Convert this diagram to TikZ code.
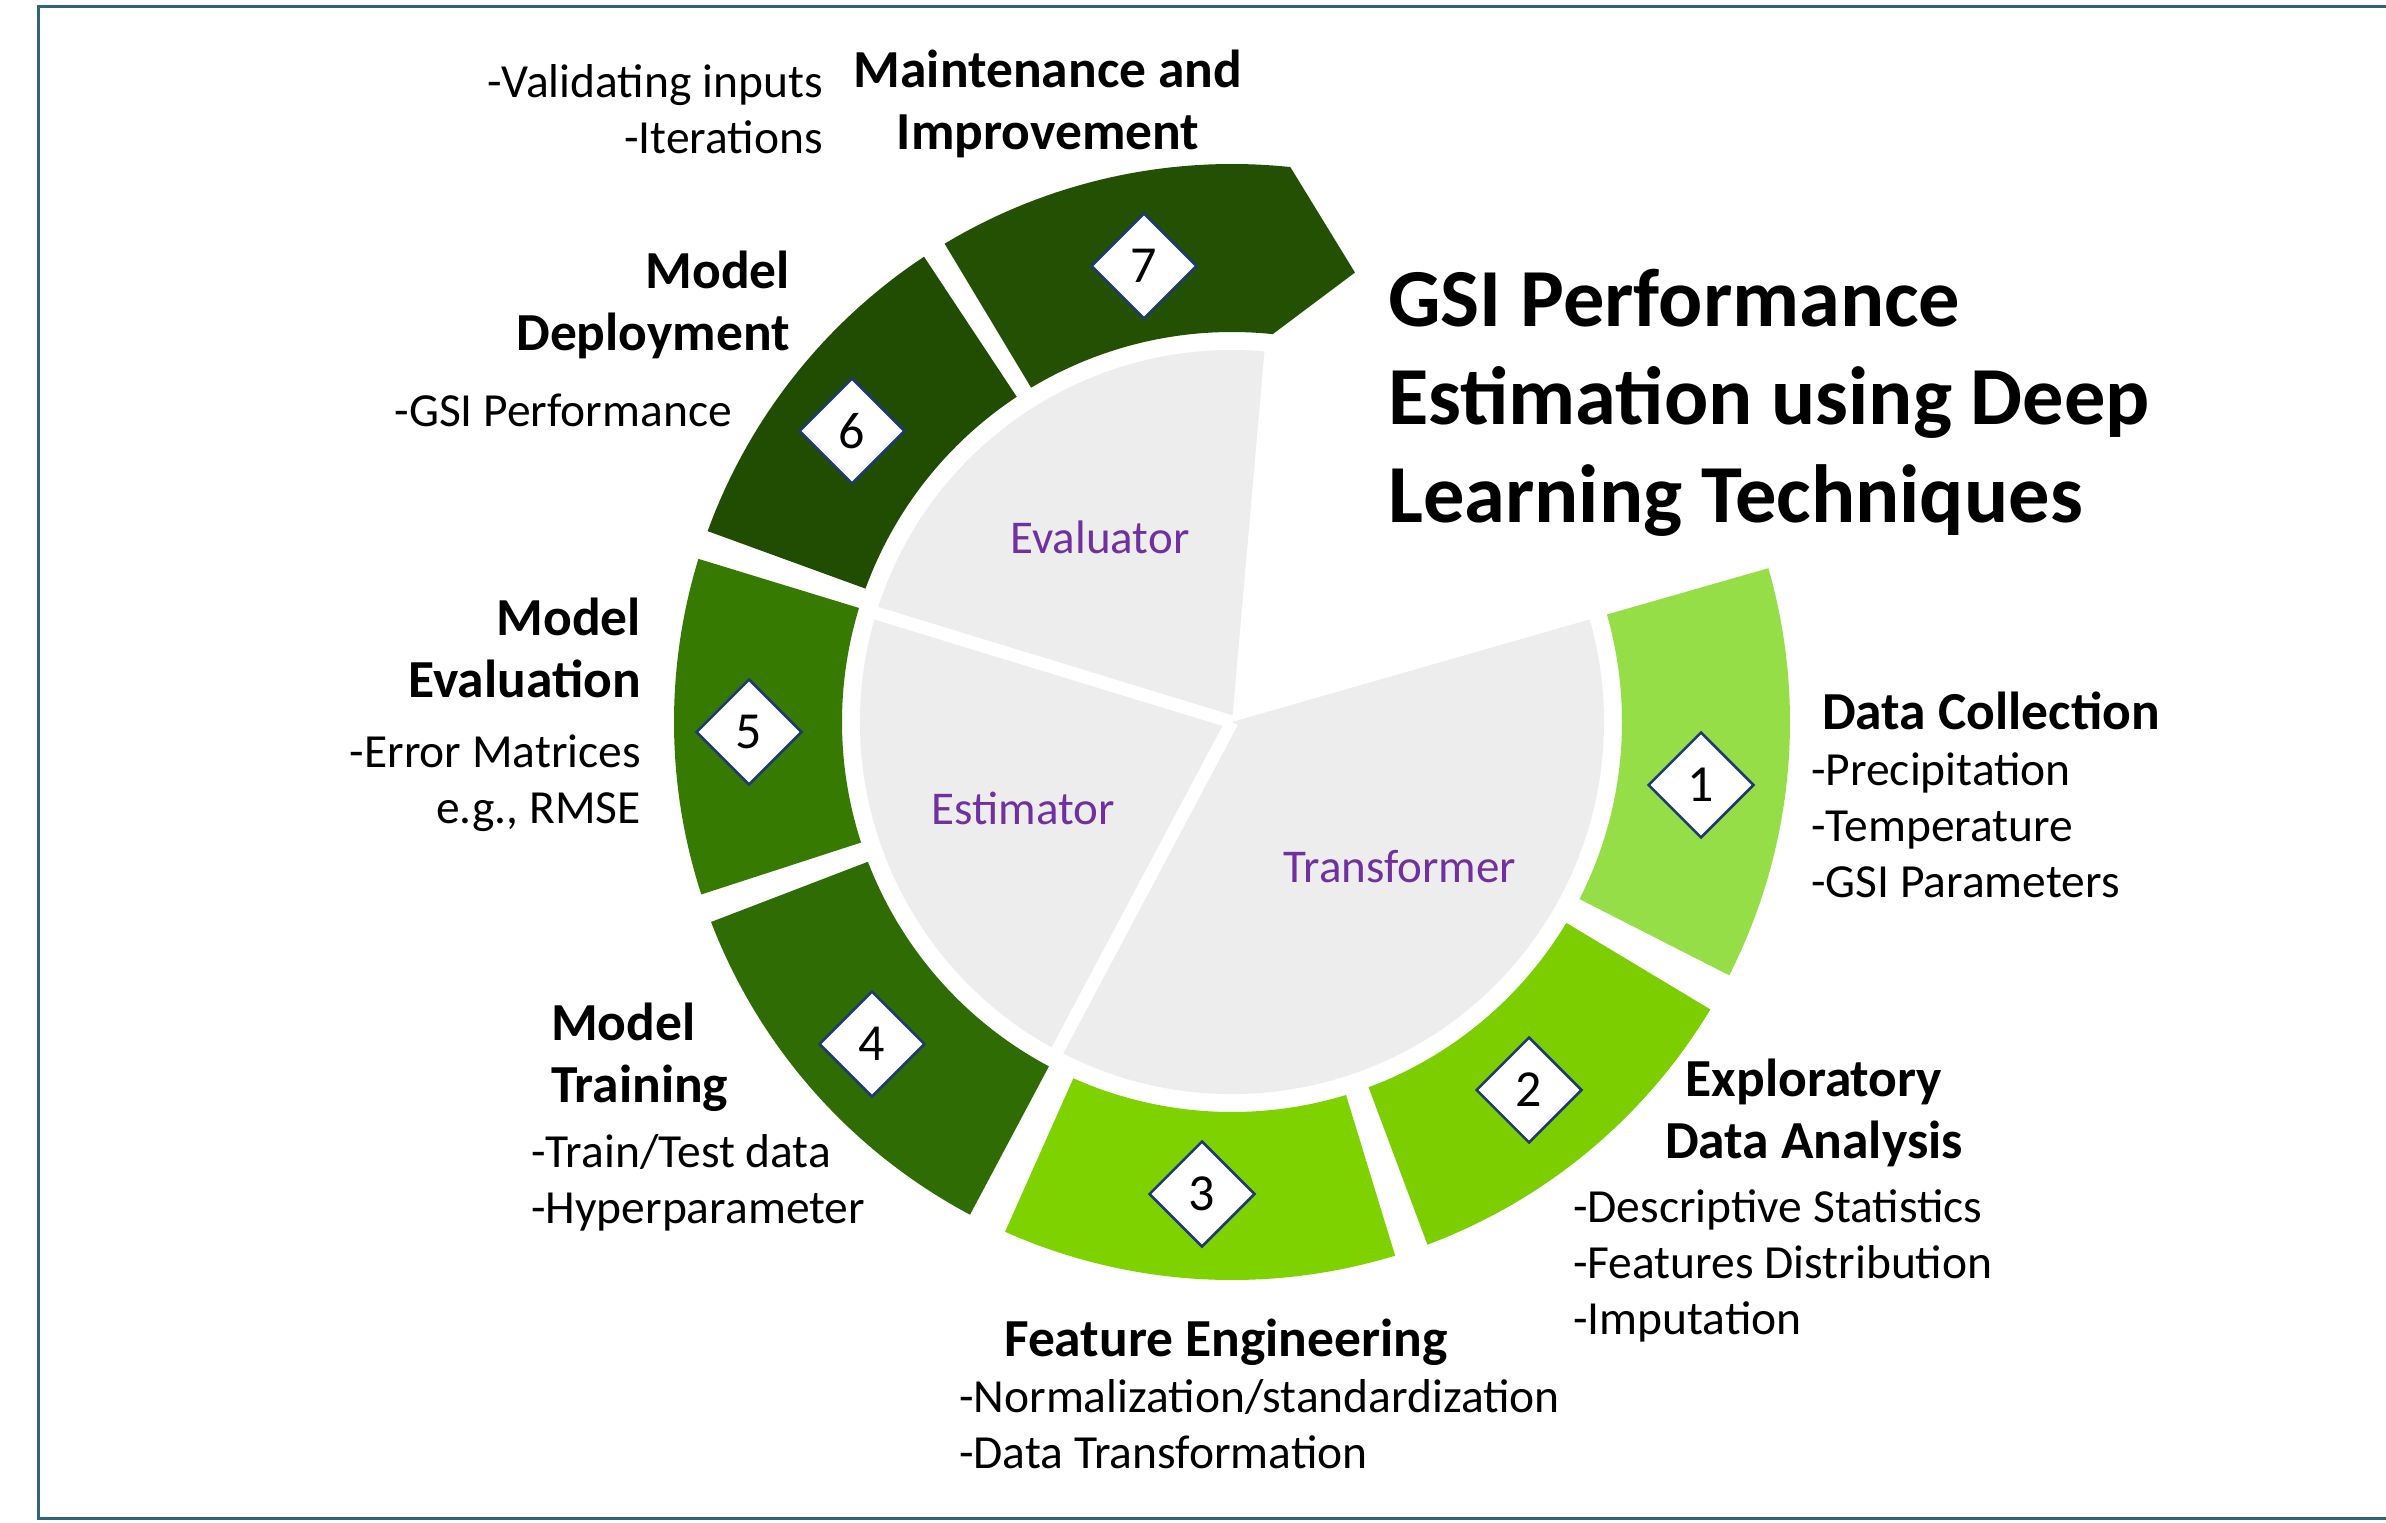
\documentclass[tikz,border=0pt]{standalone}
\usepackage{fontspec}
\setmainfont{Carlito}
\usetikzlibrary{calc,shapes.geometric}

\definecolor{frameteal}{HTML}{2F6578}
\definecolor{pegray}{HTML}{EDEDED}
\definecolor{labelpurple}{HTML}{7030A0}
\definecolor{badgeblue}{HTML}{1F3A70}
\definecolor{segone}{HTML}{96DE48}
\definecolor{segtwo}{HTML}{7CCE00}
\definecolor{segthree}{HTML}{7ED200}
\definecolor{segfour}{HTML}{2F6C04}
\definecolor{segfive}{HTML}{377A02}
\definecolor{segsix}{HTML}{204D02}
\definecolor{segseven}{HTML}{245003}

% annular sector: start angle, end angle, colour
\newcommand{\ringpart}[3]{%
  \fill[#3] ($(C)+(#1:558)$) arc[start angle=#1, end angle=#2, radius=558]
    -- ($(C)+(#2:390)$) arc[start angle=#2, end angle=#1, radius=390] -- cycle;}

\begin{document}
\begin{tikzpicture}[x=1pt,y=1pt,
  heading/.style={font=\fontsize{53.5}{62}\selectfont\bfseries, inner sep=0pt},
  bullets/.style={font=\fontsize{47.5}{56}\selectfont, inner sep=0pt},
  pielabel/.style={font=\fontsize{47}{56}\selectfont, text=labelpurple, inner sep=0pt},
  badge/.style={diamond, draw=badgeblue, line width=2.5pt, fill=white,
    minimum width=106pt, minimum height=106pt, inner sep=0pt,
    font=\fontsize{52}{60}\selectfont},
  titletext/.style={font=\fontsize{82.5}{98}\selectfont\bfseries, inner sep=0pt, align=left}
]
\useasboundingbox (0,0) rectangle (2386,-1523);
\fill[white] (0,0) rectangle (2386,-1523);
\draw[frameteal, line width=3pt] (2386,-6) -- (38,-6) -- (38,-1518) -- (2386,-1518);

\coordinate (C) at (1232,-722);

% inner pie
\fill[pegray] (C) -- ($(C)+(-118:372)$) arc[start angle=-118, end angle=16, radius=372] -- cycle;
\fill[pegray] (C) -- ($(C)+(163:372)$) arc[start angle=163, end angle=242, radius=372] -- cycle;
\fill[pegray] (C) -- ($(C)+(85:372)$) arc[start angle=85, end angle=163, radius=372] -- cycle;
\draw[white, line width=13pt] (C) -- ($(C)+(163:380)$);
\draw[white, line width=13pt] (C) -- ($(C)+(242:380)$);

% outer ring
\ringpart{-27}{16}{segone}
\ringpart{-69.5}{-31}{segtwo}
\ringpart{-114}{-73}{segthree}
\ringpart{201}{242}{segfour}
\ringpart{163}{198}{segfive}
\ringpart{123.5}{160}{segsix}
\fill[segseven] ($(C)+(121:558)$) arc[start angle=121, end angle=84, radius=558]
  -- ($(C)+(74.7:466)$) -- ($(C)+(84:390)$)
  arc[start angle=84, end angle=121, radius=390] -- cycle;

% step badges
\node[badge] (b1) at (1701,-785) {1};
\node[badge] (b2) at (1529,-1090) {2};
\node[badge] (b3) at (1202,-1194) {3};
\node[badge] (b4) at (872,-1044) {4};
\node[badge] (b5) at (749,-732) {5};
\node[badge] (b6) at (852,-431) {6};
\node[badge] (b7) at (1144,-266) {7};

% pie labels
\node[pielabel] (evaluator) at (1100,-537) {Evaluator};
\node[pielabel] (estimator) at (1023,-808) {Estimator};
\node[pielabel] (transformer) at (1400,-867) {Transformer};

% title (anchored on the baseline of its last line)
\node[titletext, anchor=base west] (title) at (1388,-522)
  {GSI Performance\\Estimation using Deep\\Learning Techniques};

% step captions (multi-line nodes anchored on the baseline of their last line)
\node[heading, anchor=base, align=center] (maintH) at (1048,-149) {Maintenance and\\Improvement};
\node[bullets, anchor=base east, align=right] (maintB) at (823,-153) {-Validating inputs\\-Iterations};

\node[heading, anchor=base east, align=right] (deployH) at (790,-350) {Model\\Deployment};
\node[bullets, anchor=base east, align=right] (deployB) at (732,-426) {-GSI Performance};

\node[heading, anchor=base east, align=right] (evalH) at (641,-697) {Model\\Evaluation};
\node[bullets, anchor=base east, align=right] (evalB) at (641,-823) {-Error Matrices\\e.g., RMSE};

\node[heading, anchor=base west, align=left] (trainH) at (551,-1102) {Model\\Training};
\node[bullets, anchor=base west, align=left] (trainB) at (531,-1223) {-Train/Test data\\-Hyperparameter};

\node[heading, anchor=base west] (featH) at (1004,-1356) {Feature Engineering};
\node[bullets, anchor=base west, align=left] (featB) at (959,-1468) {-Normalization/standardization\\-Data Transformation};

\node[heading, anchor=base, align=center] (edaH) at (1814,-1158) {Exploratory\\Data Analysis};
\node[bullets, anchor=base west, align=left] (edaB) at (1573,-1334) {-Descriptive Statistics\\-Features Distribution\\-Imputation};

\node[heading, anchor=base west] (dcH) at (1822,-729) {Data Collection};
\node[bullets, anchor=base west, align=left] (dcB) at (1811,-897) {-Precipitation\\-Temperature\\-GSI Parameters};
\end{tikzpicture}
\end{document}
